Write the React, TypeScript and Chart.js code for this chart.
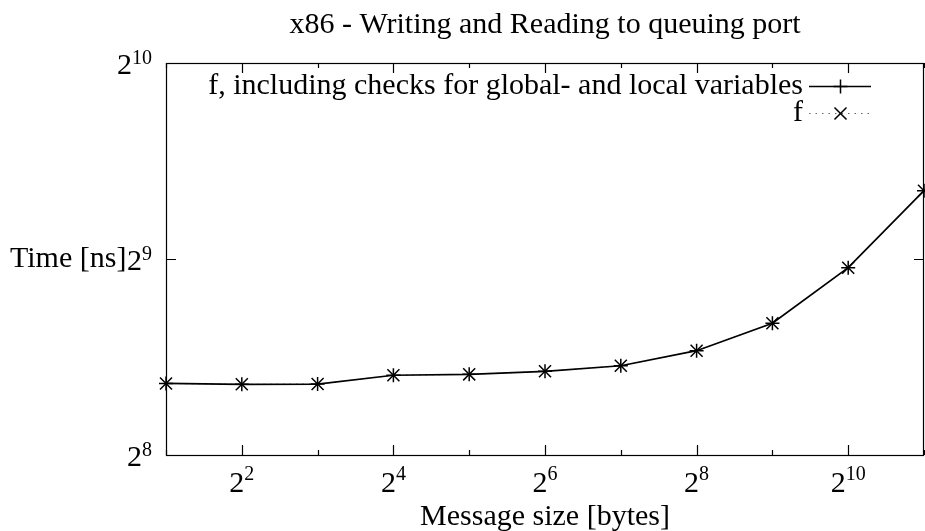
import React, { useEffect, useRef } from "react";
import { Chart, registerables } from "chart.js";

Chart.register(...registerables);

const TITLE = "x86 - Writing and Reading to queuing port";
const X_TITLE = "Message size [bytes]";
const Y_TITLE = "Time [ns]";
const SERIES_LABELS = ["f, including checks for global- and local variables", "f"];

const messageSizes = [2, 4, 8, 16, 32, 64, 128, 256, 512, 1024, 2048];
const timesWithChecks = [329.7, 328.7, 329.0, 339.4, 340.5, 344.2, 351.0, 370.2, 407.9, 496.5, 651.9];
const timesPlain = [329.7, 328.7, 329.0, 339.4, 340.5, 344.2, 351.0, 370.2, 407.9, 496.5, 651.9];

const xTickExponents = [1, 2, 3, 4, 5, 6, 7, 8, 9, 10, 11];
const xLabelExponents = [2, 4, 6, 8, 10];
const yTickExponents = [8, 9, 10];
const yLabelExponents = [8, 9, 10];

const FONT = '"Liberation Serif", "Times New Roman", serif';

function drawPow(
  ctx: CanvasRenderingContext2D,
  base: string,
  exp: string,
  x: number,
  y: number,
  raise: number,
  align: "center" | "right"
) {
  ctx.font = `30px ${FONT}`;
  const wb = ctx.measureText(base).width;
  ctx.font = `20px ${FONT}`;
  const we = ctx.measureText(exp).width;
  const total = wb + we;
  const x0 = align === "center" ? x - total / 2 : x - total;
  ctx.textAlign = "left";
  ctx.textBaseline = "alphabetic";
  ctx.font = `30px ${FONT}`;
  ctx.fillText(base, x0, y);
  ctx.font = `20px ${FONT}`;
  ctx.fillText(exp, x0 + wb, y - raise);
}

function drawMarker(ctx: CanvasRenderingContext2D, style: string, cx: number, cy: number, r: number) {
  ctx.beginPath();
  if (style === "cross") {
    ctx.moveTo(cx - r, cy);
    ctx.lineTo(cx + r, cy);
    ctx.moveTo(cx, cy - r);
    ctx.lineTo(cx, cy + r);
  } else {
    const o = Math.cos(Math.PI / 4) * r;
    ctx.moveTo(cx - o, cy - o);
    ctx.lineTo(cx + o, cy + o);
    ctx.moveTo(cx - o, cy + o);
    ctx.lineTo(cx + o, cy - o);
  }
  ctx.stroke();
}

const gnuplotPlugin = {
  id: "gnuplotFrame",
  beforeDraw(chart: any) {
    const ctx = chart.ctx as CanvasRenderingContext2D;
    ctx.save();
    ctx.fillStyle = "#ffffff";
    ctx.fillRect(0, 0, chart.width, chart.height);
    ctx.restore();
  },
  afterDraw(chart: any) {
    const ctx = chart.ctx as CanvasRenderingContext2D;
    const { left, right, top, bottom } = chart.chartArea;
    const xs = chart.scales.x;
    const ys = chart.scales.y;
    ctx.save();
    ctx.strokeStyle = "#000";
    ctx.fillStyle = "#000";
    ctx.lineWidth = 1.2;
    ctx.strokeRect(Math.round(left) + 0.5, Math.round(top) + 0.5, Math.round(right - left) - 1, Math.round(bottom - top));
    xTickExponents.forEach((e) => {
      const px = Math.round(xs.getPixelForValue(Math.pow(2, e))) + 0.5;
      const len = e % 2 === 0 ? 10 : 5;
      ctx.beginPath();
      ctx.moveTo(px, bottom);
      ctx.lineTo(px, bottom - len);
      ctx.moveTo(px, top);
      ctx.lineTo(px, top + len);
      ctx.stroke();
    });
    yTickExponents.forEach((e) => {
      const py = Math.round(ys.getPixelForValue(Math.pow(2, e))) + 0.5;
      ctx.beginPath();
      ctx.moveTo(left, py);
      ctx.lineTo(left + 10, py);
      ctx.moveTo(right, py);
      ctx.lineTo(right - 10, py);
      ctx.stroke();
    });
    xLabelExponents.forEach((e) => {
      const px = xs.getPixelForValue(Math.pow(2, e));
      drawPow(ctx, "2", String(e), px, 492, 12, "center");
    });
    yLabelExponents.forEach((e) => {
      const py = ys.getPixelForValue(Math.pow(2, e));
      drawPow(ctx, "2", String(e), left - 14, py + 11, 10, "right");
    });
    ctx.font = `30px ${FONT}`;
    ctx.textBaseline = "alphabetic";
    ctx.textAlign = "center";
    const cx = (left + right) / 2;
    ctx.fillText(TITLE, cx, 33);
    ctx.fillText(X_TITLE, cx, 525);
    ctx.textAlign = "left";
    ctx.fillText(Y_TITLE, 10, (top + bottom) / 2 + 8);
    const rows = [86, 113];
    chart.data.datasets.forEach((ds: any, i: number) => {
      const y = rows[i];
      ctx.font = `30px ${FONT}`;
      ctx.textAlign = "right";
      ctx.textBaseline = "alphabetic";
      ctx.fillStyle = "#000";
      ctx.fillText(ds.label, 803, y + 8);
      ctx.save();
      ctx.strokeStyle = ds.borderColor;
      ctx.lineWidth = ds.borderWidth;
      ctx.setLineDash(ds.borderDash || []);
      ctx.beginPath();
      ctx.moveTo(809, y + 0.5);
      ctx.lineTo(871, y + 0.5);
      ctx.stroke();
      ctx.restore();
      ctx.save();
      ctx.strokeStyle = "#000";
      ctx.lineWidth = 1.5;
      drawMarker(ctx, ds.pointStyle, 840.5, y + 0.5, ds.pointRadius);
      ctx.restore();
    });
    ctx.restore();
  },
};

export default function App() {
  const canvasRef = useRef<HTMLCanvasElement | null>(null);

  useEffect(() => {
    if (!canvasRef.current) return;
    const chart = new Chart(canvasRef.current, {
      type: "line",
      data: {
        datasets: [
          {
            label: SERIES_LABELS[0],
            data: messageSizes.map((x, i) => ({ x, y: timesWithChecks[i] })),
            borderColor: "#000000",
            borderWidth: 1.7,
            pointStyle: "cross",
            pointRadius: 7,
            pointBorderColor: "#000000",
            pointBorderWidth: 1.5,
            pointBackgroundColor: "#000000",
            fill: false,
            tension: 0,
            clip: false as any,
          },
          {
            label: SERIES_LABELS[1],
            data: messageSizes.map((x, i) => ({ x, y: timesPlain[i] })),
            borderColor: "#666666",
            borderWidth: 1,
            borderDash: [1.5, 5],
            pointStyle: "crossRot",
            pointRadius: 8.5,
            pointBorderColor: "#000000",
            pointBorderWidth: 1.5,
            pointBackgroundColor: "#000000",
            fill: false,
            tension: 0,
            clip: false as any,
          },
        ],
      },
      options: {
        responsive: false,
        animation: false,
        devicePixelRatio: 1,
        layout: { autoPadding: false, padding: { left: 166, right: 1, top: 63, bottom: 76 } },
        plugins: {
          legend: { display: false },
          title: { display: false },
          tooltip: { enabled: false },
        },
        scales: {
          x: {
            type: "logarithmic",
            display: false,
            min: Math.pow(2, xTickExponents[0]),
            max: Math.pow(2, xTickExponents[xTickExponents.length - 1]),
          },
          y: {
            type: "logarithmic",
            display: false,
            min: Math.pow(2, yTickExponents[0]),
            max: Math.pow(2, yTickExponents[yTickExponents.length - 1]),
          },
        },
      },
      plugins: [gnuplotPlugin],
    });
    return () => chart.destroy();
  }, []);

  return (
    <div style={{ position: "fixed", left: 0, top: 0, width: 925, height: 531, background: "#fff" }}>
      <canvas ref={canvasRef} width={925} height={531} style={{ display: "block", width: 925, height: 531 }} />
    </div>
  );
}
